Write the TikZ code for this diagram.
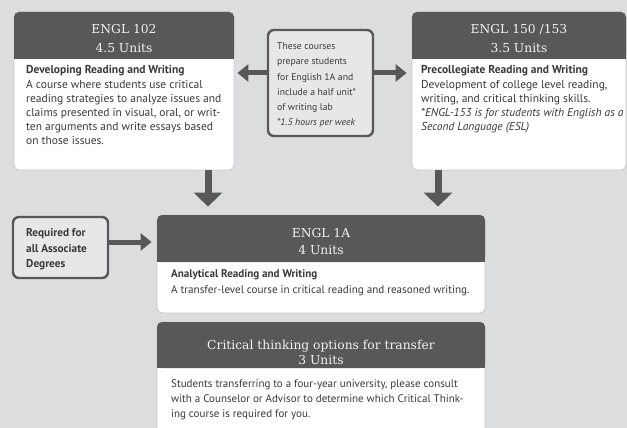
\documentclass[tikz,border=0pt]{standalone}
\usepackage{fontspec}
\setmainfont{PT Sans}
\newfontfamily\slab{DejaVu Serif}
\usetikzlibrary{arrows.meta}
\definecolor{bg}{HTML}{DCDDDE}
\definecolor{hdr}{HTML}{58585A}
\definecolor{txt}{HTML}{3A3A3A}
\definecolor{notefill}{HTML}{E7E7E8}
\definecolor{hdtext}{HTML}{F2F2F2}
\begin{document}
\begin{tikzpicture}[x=1pt,y=-1pt,
  card/.style={fill=white, draw=black!22, line width=0.8pt, rounded corners=5pt, inner sep=0pt},
  notebox/.style={fill=notefill, draw=hdr, line width=2.4pt, rounded corners=6pt, inner sep=0pt},
  hdtxt/.style={text=hdtext, align=center, inner sep=0pt},
  bodytxt/.style={anchor=north west, inner sep=0pt, align=left, text=txt},
  harrow/.style={draw=hdr, line width=5pt, -{Triangle[length=11pt,width=17pt]}},
  varrow/.style={draw=hdr, line width=7pt, -{Triangle[length=14pt,width=28pt]}}
]
\fill[bg] (0,0) rectangle (627,428);
\clip (0,0) rectangle (627,428);
\useasboundingbox (0,0) rectangle (627,428);

% ENGL 102
\node[card, minimum width=220pt, minimum height=158pt] (b102) at (124,91) {};
\fill[hdr, rounded corners=5pt] (14,12) rectangle (234,59);
\fill[hdr] (14,52) rectangle (234,59);
\node[hdtxt, font=\slab\fontsize{12.3}{19}\selectfont] (h102) at (124,39) {ENGL 102\\4.5 Units};
\node[bodytxt, font=\fontsize{11.5}{14.2}\selectfont] (t102) at (26,65.5)
  {\textbf{Developing Reading and Writing}\\A course where students use critical\\reading strategies to analyze issues and\\claims presented in visual, oral, or writ-\\ten arguments and write essays based\\on those issues.};

% ENGL 150/153
\node[card, minimum width=214pt, minimum height=158pt] (b150) at (519,91) {};
\fill[hdr, rounded corners=5pt] (412,12) rectangle (626,59);
\fill[hdr] (412,52) rectangle (626,59);
\node[hdtxt, font=\slab\fontsize{12.3}{19}\selectfont] (h150) at (519,39) {ENGL 150 /153\\3.5 Units};
\node[bodytxt, font=\fontsize{11.5}{14.2}\selectfont] (t150) at (421,65.5)
  {\textbf{Precollegiate Reading and Writing}\\Development of college level reading,\\writing, and critical thinking skills.\\\textit{*ENGL-153 is for students with English as a}\\\textit{Second Language (ESL)}};

% note box
\node[notebox, minimum width=105pt, minimum height=106pt] (note) at (320.5,83) {};
\node[bodytxt, font=\fontsize{9.7}{15.3}\selectfont] (tnote) at (277,42.5)
  {These courses\\prepare students\\for English 1A and\\include a half unit*\\of writing lab\\\textit{*1.5 hours per week}};

% Required box
\node[notebox, minimum width=95pt, minimum height=61pt] (req) at (60.5,247.5) {};
\node[bodytxt, font=\bfseries\fontsize{11.3}{15.5}\selectfont] (treq) at (26,228.5)
  {Required for\\all Associate\\Degrees};

% ENGL 1A
\node[card, minimum width=328pt, minimum height=98pt] (e1a) at (321,264) {};
\fill[hdr, rounded corners=5pt] (157,215) rectangle (485,262);
\fill[hdr] (157,255) rectangle (485,262);
\node[hdtxt, font=\slab\fontsize{12.3}{17}\selectfont] (he1a) at (321,241.5) {ENGL 1A\\4 Units};
\node[bodytxt, font=\fontsize{11.1}{16}\selectfont] (te1a) at (171,269.5)
  {\textbf{Analytical Reading and Writing}\\A transfer-level course in critical reading and reasoned writing.};

% Critical thinking
\node[card, minimum width=328pt, minimum height=130pt] (crit) at (321,387) {};
\fill[hdr, rounded corners=5pt] (157,322) rectangle (485,368);
\fill[hdr] (157,361) rectangle (485,368);
\node[hdtxt, font=\slab\fontsize{12.3}{15}\selectfont] (hcrit) at (321,352.5) {Critical thinking options for transfer\\3 Units};
\node[bodytxt, font=\fontsize{11}{15}\selectfont] (tcrit) at (171,379)
  {Students transferring to a four-year university, please consult\\with a Counselor or Advisor to determine which Critical Think-\\ing course is required for you.};

% connectors
\draw[harrow, shorten >=3pt] ([yshift=10pt]note.west) -- ([yshift=10pt]note.west -| b102.east);
\draw[harrow, shorten >=5pt] ([yshift=10pt]note.east) -- ([yshift=10pt]note.east -| b150.west);
\draw[harrow, shorten >=5pt] ([yshift=5.5pt]req.east) -- ([yshift=5.5pt]req.east -| e1a.west);
\draw[varrow, shorten >=8pt] ([xshift=84pt]b102.south) -- ([xshift=84pt]b102.south |- e1a.north);
\draw[varrow, shorten >=8pt] ([xshift=-81pt]b150.south) -- ([xshift=-81pt]b150.south |- e1a.north);
\end{tikzpicture}
\end{document}
